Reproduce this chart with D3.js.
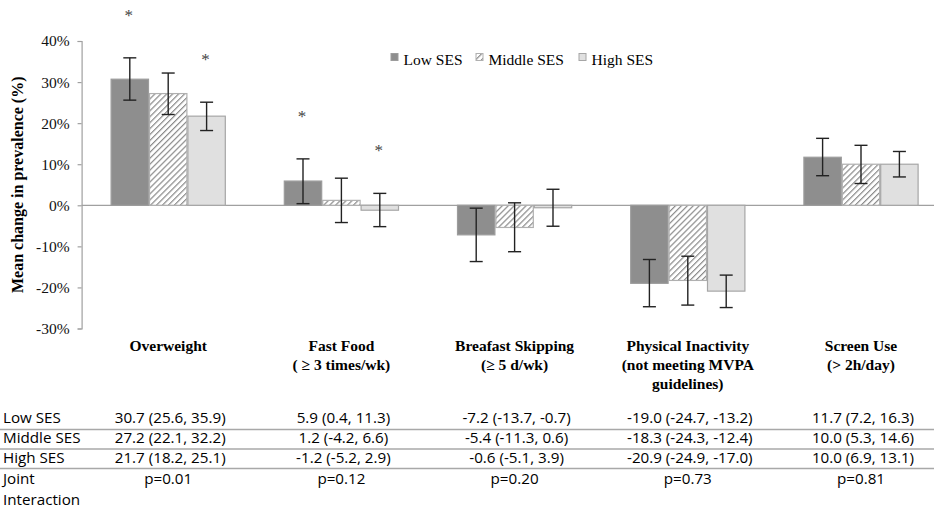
<!DOCTYPE html>
<html>
<head>
<meta charset="utf-8">
<script src="https://cdn.jsdelivr.net/npm/d3@7"></script>
<style>
  html, body { margin: 0; padding: 0; background: #fff; }
  svg { display: block; }
</style>
</head>
<body>
<svg id="chart" width="934" height="510"></svg>
<script>
// ---------- DATA ----------
const categories = ["Overweight", "Fast Food", "Breafast Skipping", "Physical Inactivity", "Screen Use"];
const categoryLines = [
  ["Overweight"],
  ["Fast Food", "( \u2265 3 times/wk)"],
  ["Breafast Skipping", "(\u2265 5 d/wk)"],
  ["Physical Inactivity", "(not meeting MVPA", "guidelines)"],
  ["Screen Use", "(> 2h/day)"]
];
const seriesNames = ["Low SES", "Middle SES", "High SES"];
const lowMean   = [30.7, 5.9, -7.2, -19.0, 11.7];
const lowLower  = [25.6, 0.4, -13.7, -24.7, 7.2];
const lowUpper  = [35.9, 11.3, -0.7, -13.2, 16.3];
const midMean   = [27.2, 1.2, -5.4, -18.3, 10.0];
const midLower  = [22.1, -4.2, -11.3, -24.3, 5.3];
const midUpper  = [32.2, 6.6, 0.6, -12.4, 14.6];
const highMean  = [21.7, -1.2, -0.6, -20.9, 10.0];
const highLower = [18.2, -5.2, -5.1, -24.9, 6.9];
const highUpper = [25.1, 2.9, 3.9, -17.0, 13.1];
const lowSig    = [true, true, false, false, false];
const midSig    = [false, false, false, false, false];
const highSig   = [true, true, false, false, false];
const pValues   = ["p=0.01", "p=0.12", "p=0.20", "p=0.73", "p=0.81"];
const yTicks    = [40, 30, 20, 10, 0, -10, -20, -30];

const series = [
  { name: seriesNames[0], mean: lowMean, lower: lowLower, upper: lowUpper, sig: lowSig },
  { name: seriesNames[1], mean: midMean, lower: midLower, upper: midUpper, sig: midSig },
  { name: seriesNames[2], mean: highMean, lower: highLower, upper: highUpper, sig: highSig }
];

// ---------- STYLE ----------
const serif = "'Liberation Serif', 'Times New Roman', serif";
const sans = "'Open Sans', 'DejaVu Sans', sans-serif";
const fills = ["#8e8e8e", "url(#hatch)", "#e0e0e0"];
const strokes = ["#9c9c9c", "#b0b0b0", "#a6a6a6"];

const svg = d3.select("#chart");

// hatch pattern
const defs = svg.append("defs");
const pat = defs.append("pattern")
  .attr("id", "hatch").attr("patternUnits", "userSpaceOnUse")
  .attr("width", 4.2).attr("height", 4.2)
  .attr("patternTransform", "rotate(45)");
pat.append("rect").attr("width", 4.2).attr("height", 4.2).attr("fill", "#fff");
pat.append("line").attr("x1", 0.6).attr("y1", 0).attr("x2", 0.6).attr("y2", 4.2)
  .attr("stroke", "#8a8a8a").attr("stroke-width", 1.2);

// ---------- SCALES ----------
const plotLeft = 81.6, plotRight = 947.6;
const y = d3.scaleLinear().domain([-30, 40]).range([328.5, 41]);
const x0 = d3.scaleBand().domain(categories).range([plotLeft, plotRight]).padding(0);
const x1 = d3.scaleBand().domain(seriesNames).range([29, x0.bandwidth() - 29]).padding(0);

// ---------- AXIS ----------
const yAxis = d3.axisLeft(y).tickValues(yTicks).tickSize(4).tickPadding(8)
  .tickFormat(d => d + "%");
const gy = svg.append("g").attr("transform", `translate(${plotLeft},0)`).call(yAxis);
gy.select(".domain").attr("stroke", "#a0a0a0").attr("stroke-width", 1.2);
gy.selectAll(".tick line").attr("stroke", "#a0a0a0").attr("stroke-width", 1.2);
gy.selectAll(".tick text").attr("font-family", serif).attr("font-size", 15.5).attr("fill", "#111");

// zero line
svg.append("line")
  .attr("x1", plotLeft).attr("x2", 934)
  .attr("y1", y(0)).attr("y2", y(0))
  .attr("stroke", "#a0a0a0").attr("stroke-width", 1.3);

// y label
svg.append("text")
  .attr("transform", `translate(23,${(y(40) + y(-30)) / 2}) rotate(-90)`)
  .attr("text-anchor", "middle")
  .attr("font-family", serif).attr("font-weight", "bold").attr("font-size", 16)
  .attr("fill", "#000")
  .text("Mean change in prevalence (%)");

// ---------- BARS ----------
const groups = svg.append("g").selectAll("g")
  .data(categories).join("g")
  .attr("transform", d => `translate(${x0(d)},0)`);

series.forEach((s, si) => {
  groups.append("rect")
    .attr("x", x1(s.name) + 0.5)
    .attr("width", x1.bandwidth() - 1)
    .attr("y", (d, i) => y(Math.max(0, s.mean[i])))
    .attr("height", (d, i) => Math.abs(y(s.mean[i]) - y(0)))
    .attr("fill", fills[si])
    .attr("stroke", strokes[si]).attr("stroke-width", 1.2);
});

// error bars
series.forEach((s, si) => {
  const cx = x1(s.name) + x1.bandwidth() / 2;
  const eb = groups.append("g").attr("stroke", "#222").attr("stroke-width", 1.4);
  eb.append("line").attr("x1", cx).attr("x2", cx)
    .attr("y1", (d, i) => y(s.lower[i])).attr("y2", (d, i) => y(s.upper[i]));
  eb.append("line").attr("x1", cx - 6.5).attr("x2", cx + 6.5)
    .attr("y1", (d, i) => y(s.lower[i])).attr("y2", (d, i) => y(s.lower[i]));
  eb.append("line").attr("x1", cx - 6.5).attr("x2", cx + 6.5)
    .attr("y1", (d, i) => y(s.upper[i])).attr("y2", (d, i) => y(s.upper[i]));
  groups.append("text")
    .attr("x", cx - 1).attr("y", (d, i) => y(s.upper[i]) - 37)
    .attr("text-anchor", "middle")
    .attr("font-family", serif).attr("font-size", 17).attr("fill", "#444")
    .text((d, i) => s.sig[i] ? "*" : "");
});

// ---------- CATEGORY LABELS ----------
categories.forEach((c, ci) => {
  const cx = x0(c) + x0.bandwidth() / 2;
  categoryLines[ci].forEach((ln, li) => {
    svg.append("text")
      .attr("x", cx).attr("y", 351 + li * 19)
      .attr("text-anchor", "middle")
      .attr("font-family", serif).attr("font-weight", "bold").attr("font-size", 15.5)
      .attr("fill", "#000")
      .text(ln);
  });
});

// ---------- LEGEND ----------
const legendX = [391, 476, 579];
series.forEach((s, si) => {
  svg.append("rect")
    .attr("x", legendX[si]).attr("y", 53.5).attr("width", 7).attr("height", 7)
    .attr("fill", fills[si]).attr("stroke", strokes[si]).attr("stroke-width", 1);
  svg.append("text")
    .attr("x", legendX[si] + 12.5).attr("y", 65)
    .attr("font-family", serif).attr("font-size", 15.5).attr("fill", "#000")
    .text(s.name);
});

// ---------- TABLE ----------
const rowY = [423, 443, 463];
const lineY = [429.5, 449, 468.5];
lineY.forEach(ly => {
  svg.append("line").attr("x1", 0).attr("x2", 934).attr("y1", ly).attr("y2", ly)
    .attr("stroke", "#a8a8a8").attr("stroke-width", 1.5);
});
const fmt = v => v.toFixed(1);
const tableSize = 15.2;
series.forEach((s, si) => {
  svg.append("text").attr("x", 3).attr("y", rowY[si])
    .attr("font-family", sans).attr("font-size", tableSize).attr("fill", "#000")
    .text(s.name);
  categories.forEach((c, ci) => {
    svg.append("text")
      .attr("x", x0(c) + x0.bandwidth() / 2 + 2).attr("y", rowY[si])
      .attr("text-anchor", "middle")
      .attr("font-family", sans).attr("font-size", tableSize).attr("fill", "#000")
      .text(`${fmt(s.mean[ci])} (${fmt(s.lower[ci])}, ${fmt(s.upper[ci])})`);
  });
});
svg.append("text").attr("x", 3).attr("y", 484)
  .attr("font-family", sans).attr("font-size", tableSize).attr("fill", "#000").text("Joint");
svg.append("text").attr("x", 3).attr("y", 505)
  .attr("font-family", sans).attr("font-size", tableSize).attr("fill", "#000").text("Interaction");
categories.forEach((c, ci) => {
  svg.append("text")
    .attr("x", x0(c) + x0.bandwidth() / 2).attr("y", 484)
    .attr("text-anchor", "middle")
    .attr("font-family", sans).attr("font-size", tableSize).attr("fill", "#000")
    .text(pValues[ci]);
});
</script>
</body>
</html>
